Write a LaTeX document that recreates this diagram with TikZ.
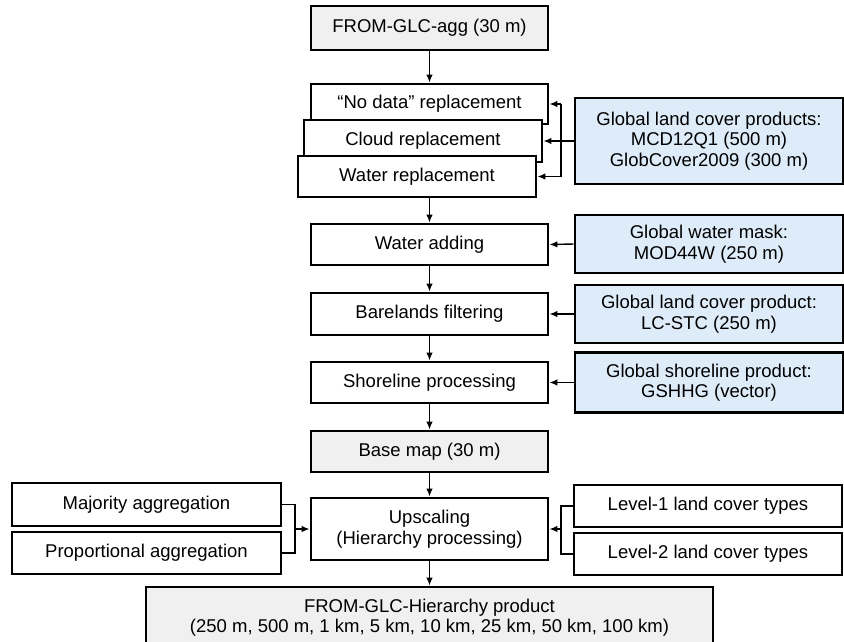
\documentclass[tikz,border=0pt]{standalone}
\usepackage{fontspec}
\setmainfont{Liberation Sans}
\usetikzlibrary{arrows.meta}
\definecolor{srcblue}{RGB}{222,236,250}
\definecolor{prodgray}{RGB}{240,240,240}

\begin{document}
\begin{tikzpicture}[
    x=1pt, y=-1pt,
    every node/.style={rectangle, draw, line width=2.8pt, fill=white, text centered, align=center,
        font=\fontsize{18.5}{20.5}\selectfont, inner sep=0pt},
    stepbox/.style={minimum width=237pt, minimum height=41pt},
    srcbox/.style={fill=srcblue, minimum width=268pt},
    prodbox/.style={fill=prodgray},
    link/.style={line width=1.4pt},
    arr/.style={link, -{Latex[length=8pt,width=6.5pt]}}
]
\useasboundingbox (0,0) rectangle (844,641);

% main column
\node[stepbox, prodbox, minimum height=44pt] (agg) at (429.5,28) {FROM-GLC-agg (30 m)};
\node[stepbox, minimum height=40pt] (nodata) at (429.5,104) {``No data'' replacement};
\node[stepbox, minimum width=238pt, minimum height=42pt] (cloud) at (423,141) {Cloud replacement};
\node[stepbox, minimum width=238pt] (waterrep) at (417,176.5) {Water replacement};
\node[stepbox] (wateradd) at (429.5,244.5) {Water adding};
\node[stepbox, minimum height=42pt] (bare) at (429.5,314) {Barelands filtering};
\node[stepbox] (shore) at (429.5,382.5) {Shoreline processing};
\node[stepbox, prodbox] (base) at (429.5,451.5) {Base map (30 m)};
\node[stepbox, minimum height=62pt] (upscale) at (429.5,529) {Upscaling\\(Hierarchy processing)};
\node[prodbox, minimum width=567pt, minimum height=61pt] (final) at (429.5,617.5)
    {FROM-GLC-Hierarchy product\\(250 m, 500 m, 1 km, 5 km, 10 km, 25 km, 50 km, 100 km)};

% auxiliary data
\node[srcbox, minimum height=86pt] (glc) at (709,141) {Global land cover products:\\MCD12Q1 (500 m)\\GlobCover2009 (300 m)};
\node[srcbox, minimum height=58pt] (mask) at (709,244) {Global water mask:\\MOD44W (250 m)};
\node[srcbox, minimum height=58pt] (lcstc) at (709,314) {Global land cover product:\\LC-STC (250 m)};
\node[srcbox, minimum height=60pt] (gshhg) at (709,382.5) {Global shoreline product:\\GSHHG (vector)};

% aggregation options
\node[minimum width=269pt, minimum height=43pt] (major) at (146.5,504.5) {Majority aggregation};
\node[minimum width=269pt, minimum height=42pt] (prop) at (146.5,553) {Proportional aggregation};
\node[minimum width=268pt, minimum height=42pt] (lev1) at (708,506) {Level-1 land cover types};
\node[minimum width=268pt, minimum height=42pt] (lev2) at (708,554) {Level-2 land cover types};

% flow
\draw[arr] (agg) -- (nodata);
\draw[arr] (waterrep.south -| wateradd.north) -- (wateradd.north);
\draw[arr] (wateradd) -- (bare);
\draw[arr] (bare) -- (shore);
\draw[arr] (shore) -- (base);
\draw[arr] (base) -- (upscale);
\draw[arr] (upscale) -- (final);

% inputs
\coordinate (stackbus) at (561,141);
\draw[arr] (glc.west) -- (cloud.east);
\draw[link] (stackbus |- nodata.east) -- (stackbus |- waterrep.east);
\draw[arr] (stackbus |- nodata.east) -- (nodata.east);
\draw[arr] (stackbus |- waterrep.east) -- (waterrep.east);
\draw[arr] (mask.west) -- (wateradd.east);
\draw[arr] (lcstc.west) -- (bare.east);
\draw[arr] (gshhg.west) -- (shore.east);

% brackets into upscaling
\coordinate (leftbus) at (295,529);
\coordinate (rightbus) at (561,529);
\draw[link] (major.east) -| (leftbus) |- (prop.east);
\draw[arr] (leftbus) -- (upscale.west);
\draw[link] (lev1.west) -| (rightbus) |- (lev2.west);
\draw[arr] (rightbus) -- (upscale.east);

\end{tikzpicture}
\end{document}
